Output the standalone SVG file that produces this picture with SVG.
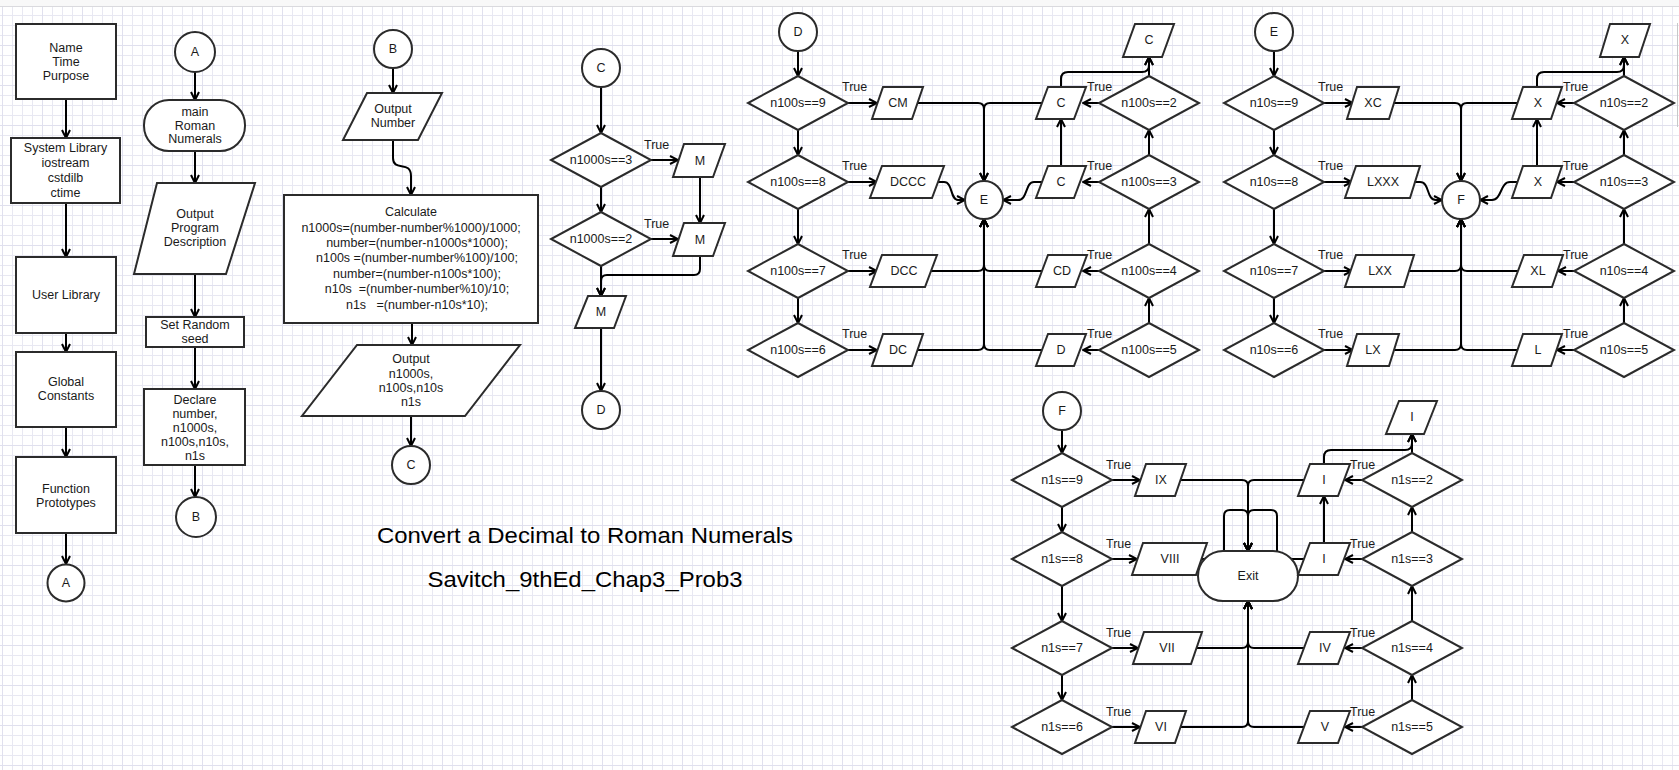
<svg xmlns="http://www.w3.org/2000/svg" width="1679" height="770" viewBox="0 0 1679 770">
<defs>
<pattern id="grid" patternUnits="userSpaceOnUse" x="2" y="5" width="40" height="40">
<rect width="40" height="40" fill="#fff"/>
<path d="M0.5,0V40M10.5,0V40M20.5,0V40M30.5,0V40M0,0.5H40M0,10.5H40M0,20.5H40M0,30.5H40" stroke="#e8e8f2" stroke-width="1" fill="none"/>
<path d="M0.5,0V40M0,0.5H40" stroke="#e0e0ee" stroke-width="1" fill="none"/>
</pattern>
<marker id="ah" viewBox="0 0 10 10" refX="9" refY="5" markerWidth="10" markerHeight="10" markerUnits="userSpaceOnUse" orient="auto">
<path d="M1,1 L9,5 L1,9" fill="none" stroke="#000" stroke-width="2"/>
</marker>
<style>
.s{fill:#fff;stroke:#2b2b2b;stroke-width:2}
.t{font-family:"Liberation Sans",Arial,sans-serif;font-size:12.5px;fill:#1a1a1a;text-anchor:middle}
.tl{font-family:"Liberation Sans",Arial,sans-serif;font-size:12.5px;fill:#1a1a1a;text-anchor:start}
.pre{white-space:pre}
.ti{font-family:"Liberation Sans",Arial,sans-serif;font-size:22px;fill:#000;text-anchor:middle}
#connectors path{fill:none;stroke:#000;stroke-width:2}
#connectors path.a{marker-end:url(#ah)}
</style>
</defs>

<rect width="1679" height="770" fill="url(#grid)"/>
<rect width="1679" height="6" fill="#f8f8f8"/>
<path d="M0,6.5H1679" stroke="#dadade" stroke-width="1"/>
<path d="M1677.5,23V127" stroke="#c8c8c8" stroke-width="1"/>

<g id="connectors">
<!-- column 1 -->
<path class="a" d="M66,99V138"/>
<path class="a" d="M66,203V257"/>
<path class="a" d="M66,333V352"/>
<path class="a" d="M66,427V457"/>
<path class="a" d="M66,533V564"/>
<!-- column 2 -->
<path class="a" d="M195,72V100"/>
<path class="a" d="M195,151V183"/>
<path class="a" d="M195,274V317"/>
<path class="a" d="M195,347V389"/>
<path class="a" d="M195,465V497"/>
<!-- column 3 -->
<path class="a" d="M393,68V93"/>
<path class="a" d="M393,140V158C393,172 411,160 411,176V195"/>
<path class="a" d="M412,323V345"/>
<path class="a" d="M411,416V446"/>
<!-- thousands -->
<path class="a" d="M601,87V133"/>
<path class="a" d="M651,160H678"/>
<path class="a" d="M700,177V223"/>
<path class="a" d="M601,187V212"/>
<path class="a" d="M651,239H678"/>
<path class="a" d="M700,256V269Q700,275 694,275H607Q601,275 601,281V296"/>
<path class="a" d="M601,266V296"/>
<path class="a" d="M601,328V391"/>
<!-- hundreds left -->
<path class="a" d="M798,51V76"/>
<path class="a" d="M798,130V155"/>
<path class="a" d="M798,209V244"/>
<path class="a" d="M798,298V323"/>
<path class="a" d="M848,103H877"/>
<path class="a" d="M848,182H877"/>
<path class="a" d="M848,271H877"/>
<path class="a" d="M848,350H877"/>
<path class="a" d="M918,103H978Q984,103 984,109V181"/>
<path class="a" d="M938,182H944C953,182 950,200 958,200H965"/>
<path class="a" d="M931,271H978Q984,271 984,265V219"/>
<path class="a" d="M918,350H978Q984,350 984,344V219"/>
<!-- hundreds right -->
<path class="a" d="M1149,323V298"/>
<path class="a" d="M1149,244V209"/>
<path class="a" d="M1149,155V130"/>
<path class="a" d="M1149,76V57"/>
<path class="a" d="M1099,103H1083"/>
<path class="a" d="M1099,182H1083"/>
<path class="a" d="M1099,271H1083"/>
<path class="a" d="M1099,350H1083"/>
<path class="a" d="M1061,87V79Q1061,72 1068,72H1142Q1149,72 1149,65V57"/>
<path class="a" d="M1061,166V119"/>
<path class="a" d="M1042,182H1034C1025,182 1028,200 1018,200H1003"/>
<path class="a" d="M1042,103H990Q984,103 984,109V181"/>
<path class="a" d="M1042,271H990Q984,271 984,265V219"/>
<path class="a" d="M1042,350H990Q984,350 984,344V219"/>
<!-- tens left -->
<path class="a" d="M1274,51V76"/>
<path class="a" d="M1274,130V155"/>
<path class="a" d="M1274,209V244"/>
<path class="a" d="M1274,298V323"/>
<path class="a" d="M1324,103H1353"/>
<path class="a" d="M1324,182H1352"/>
<path class="a" d="M1324,271H1352"/>
<path class="a" d="M1324,350H1353"/>
<path class="a" d="M1394,103H1455Q1461,103 1461,109V181"/>
<path class="a" d="M1415,182H1420C1430,182 1426,200 1436,200H1442"/>
<path class="a" d="M1409,271H1455Q1461,271 1461,265V219"/>
<path class="a" d="M1394,350H1455Q1461,350 1461,344V219"/>
<!-- tens right -->
<path class="a" d="M1624,323V298"/>
<path class="a" d="M1624,244V209"/>
<path class="a" d="M1624,155V130"/>
<path class="a" d="M1624,76V57"/>
<path class="a" d="M1574,103H1557"/>
<path class="a" d="M1574,182H1557"/>
<path class="a" d="M1574,271H1558"/>
<path class="a" d="M1574,350H1557"/>
<path class="a" d="M1537,87V79Q1537,72 1544,72H1617Q1624,72 1624,65V57"/>
<path class="a" d="M1537,166V119"/>
<path class="a" d="M1517,182H1510C1500,182 1502,200 1492,200H1480"/>
<path class="a" d="M1517,103H1467Q1461,103 1461,109V181"/>
<path class="a" d="M1518,271H1467Q1461,271 1461,265V219"/>
<path class="a" d="M1517,350H1467Q1461,350 1461,344V219"/>
<!-- ones left -->
<path class="a" d="M1062,430V453"/>
<path class="a" d="M1062,507V532"/>
<path class="a" d="M1062,586V621"/>
<path class="a" d="M1062,675V700"/>
<path class="a" d="M1112,480H1140"/>
<path class="a" d="M1112,559H1137"/>
<path class="a" d="M1112,648H1138"/>
<path class="a" d="M1112,727H1140"/>
<path class="a" d="M1181,480H1242Q1248,480 1248,486V551"/>
<path class="a" d="M1201,559H1218Q1224,559 1224,553V516Q1224,510 1230,510H1242Q1248,510 1248,516V551"/>
<path class="a" d="M1196,648H1242Q1248,648 1248,642V601"/>
<path class="a" d="M1181,727H1242Q1248,727 1248,721V601"/>
<!-- ones right -->
<path class="a" d="M1412,700V675"/>
<path class="a" d="M1412,621V586"/>
<path class="a" d="M1412,532V507"/>
<path class="a" d="M1412,453V434"/>
<path class="a" d="M1362,480H1345"/>
<path class="a" d="M1362,559H1345"/>
<path class="a" d="M1362,648H1345"/>
<path class="a" d="M1362,727H1345"/>
<path class="a" d="M1324,464V457Q1324,450 1331,450H1405Q1412,450 1412,443V434"/>
<path class="a" d="M1324,543V496"/>
<path class="a" d="M1304,480H1254Q1248,480 1248,486V551"/>
<path class="a" d="M1304,559H1283Q1277,559 1277,553V516Q1277,510 1271,510H1254Q1248,510 1248,516V551"/>
<path class="a" d="M1304,648H1254Q1248,648 1248,642V601"/>
<path class="a" d="M1304,727H1254Q1248,727 1248,721V601"/>
</g>

<!-- column 1 -->
<g id="header"><rect class="s" x="16" y="24" width="100" height="75"/><text class="t" x="66" y="52">Name<tspan x="66" dy="14">Time</tspan><tspan x="66" dy="14">Purpose</tspan></text></g>
<g id="syslib"><rect class="s" x="11" y="138" width="109" height="65"/><text class="t" x="65.5" y="152">System Library<tspan x="65.5" dy="15">iostream</tspan><tspan x="65.5" dy="15">cstdilb</tspan><tspan x="65.5" dy="15">ctime</tspan></text></g>
<g id="userlib"><rect class="s" x="16" y="257" width="100" height="76"/><text class="t" x="66" y="299">User Library</text></g>
<g id="globals"><rect class="s" x="16" y="352" width="100" height="75"/><text class="t" x="66" y="386">Global<tspan x="66" dy="14">Constants</tspan></text></g>
<g id="protos"><rect class="s" x="16" y="457" width="100" height="76"/><text class="t" x="66" y="493">Function<tspan x="66" dy="14">Prototypes</tspan></text></g>
<g id="A1"><circle class="s" cx="66" cy="583" r="18.5"/><text class="t" x="66" y="587">A</text></g>

<!-- column 2 -->
<g id="A2"><circle class="s" cx="195" cy="52" r="20"/><text class="t" x="195" y="56">A</text></g>
<g id="main"><rect class="s" x="144" y="100" width="101" height="51" rx="25" ry="25"/><text class="t" x="195" y="116">main<tspan x="195" dy="14">Roman</tspan><tspan x="195" dy="13">Numerals</tspan></text></g>
<g id="outdesc"><polygon class="s" points="157,183 255,183 226,274 134,274"/><text class="t" x="195" y="218">Output<tspan x="195" dy="14">Program</tspan><tspan x="195" dy="14">Description</tspan></text></g>
<g id="seed"><rect class="s" x="146" y="317" width="98" height="30"/><text class="t" x="195" y="329">Set Random<tspan x="195" dy="14">seed</tspan></text></g>
<g id="declare"><rect class="s" x="144" y="389" width="101" height="76"/><text class="t" x="195" y="404">Declare<tspan x="195" dy="14">number,</tspan><tspan x="195" dy="14">n1000s,</tspan><tspan x="195" dy="14">n100s,n10s,</tspan><tspan x="195" dy="14">n1s</tspan></text></g>
<g id="B1"><circle class="s" cx="196" cy="517" r="20"/><text class="t" x="196" y="521">B</text></g>

<!-- column 3 -->
<g id="B2"><circle class="s" cx="393" cy="49" r="19"/><text class="t" x="393" y="53">B</text></g>
<g id="outnum"><polygon class="s" points="367,93 442,93 418,140 343,140"/><text class="t" x="393" y="113">Output<tspan x="393" dy="14">Number</tspan></text></g>
<g id="calc"><rect class="s" x="284" y="195" width="254" height="128"/>
<text class="t pre" x="411" y="216">Calculate</text>
<text class="t pre" x="411" y="232">n1000s=(number-number%1000)/1000;</text>
<text class="t pre" x="417" y="247">number=(number-n1000s*1000);</text>
<text class="t pre" x="417" y="262">n100s =(number-number%100)/100;</text>
<text class="t pre" x="417" y="278">number=(number-n100s*100);</text>
<text class="t pre" x="417" y="293">n10s  =(number-number%10)/10;</text>
<text class="t pre" x="417" y="309">n1s   =(number-n10s*10);</text>
</g>
<g id="outvals"><polygon class="s" points="357,345 520,345 465,416 302,416"/><text class="t" x="411" y="363">Output<tspan x="411" dy="15">n1000s,</tspan><tspan x="411" dy="14">n100s,n10s</tspan><tspan x="411" dy="14">n1s</tspan></text></g>
<g id="C1"><circle class="s" cx="411" cy="465" r="19"/><text class="t" x="411" y="469">C</text></g>

<!-- thousands -->
<g id="C2"><circle class="s" cx="601" cy="68" r="19"/><text class="t" x="601" y="72">C</text></g>
<g id="th3"><polygon class="s" points="601,133 651,160 601,187 551,160"/><text class="t" x="601" y="164">n1000s==3</text></g>
<g id="th2"><polygon class="s" points="601,212 651,239 601,266 551,239"/><text class="t" x="601" y="243">n1000s==2</text></g>
<g id="m1"><polygon class="s" points="684,144 725,144 713,177 673,177"/><text class="t" x="700" y="165">M</text></g>
<g id="m2"><polygon class="s" points="684,223 725,223 713,256 673,256"/><text class="t" x="700" y="244">M</text></g>
<g id="m3"><polygon class="s" points="588,296 626,296 614,328 575,328"/><text class="t" x="601" y="316">M</text></g>
<g id="D1"><circle class="s" cx="601" cy="410" r="19"/><text class="t" x="601" y="414">D</text></g>
<g id="th-labels"><text class="tl" x="644" y="149">True</text><text class="tl" x="644" y="228">True</text></g>

<!-- hundreds -->
<g id="D2"><circle class="s" cx="798" cy="32" r="19"/><text class="t" x="798" y="36">D</text></g>
<g id="h9"><polygon class="s" points="798,76 848,103 798,130 748,103"/><text class="t" x="798" y="107">n100s==9</text></g>
<g id="h8"><polygon class="s" points="798,155 848,182 798,209 748,182"/><text class="t" x="798" y="186">n100s==8</text></g>
<g id="h7"><polygon class="s" points="798,244 848,271 798,298 748,271"/><text class="t" x="798" y="275">n100s==7</text></g>
<g id="h6"><polygon class="s" points="798,323 848,350 798,377 748,350"/><text class="t" x="798" y="354">n100s==6</text></g>
<g id="pCM"><polygon class="s" points="883,87 923,87 912,119 872,119"/><text class="t" x="898" y="107">CM</text></g>
<g id="pDCCC"><polygon class="s" points="882,166 944,166 932,198 870,198"/><text class="t" x="908" y="186">DCCC</text></g>
<g id="pDCC"><polygon class="s" points="882,255 937,255 925,287 870,287"/><text class="t" x="904" y="275">DCC</text></g>
<g id="pDC"><polygon class="s" points="883,334 923,334 912,366 872,366"/><text class="t" x="898" y="354">DC</text></g>
<g id="E1"><circle class="s" cx="984" cy="200" r="19"/><text class="t" x="984" y="204">E</text></g>
<g id="h2"><polygon class="s" points="1149,76 1199,103 1149,130 1099,103"/><text class="t" x="1149" y="107">n100s==2</text></g>
<g id="h3"><polygon class="s" points="1149,155 1199,182 1149,209 1099,182"/><text class="t" x="1149" y="186">n100s==3</text></g>
<g id="h4"><polygon class="s" points="1149,244 1199,271 1149,298 1099,271"/><text class="t" x="1149" y="275">n100s==4</text></g>
<g id="h5"><polygon class="s" points="1149,323 1199,350 1149,377 1099,350"/><text class="t" x="1149" y="354">n100s==5</text></g>
<g id="pC2"><polygon class="s" points="1048,87 1086,87 1074,119 1036,119"/><text class="t" x="1061" y="107">C</text></g>
<g id="pC3"><polygon class="s" points="1048,166 1086,166 1074,198 1036,198"/><text class="t" x="1061" y="186">C</text></g>
<g id="pCD"><polygon class="s" points="1048,255 1087,255 1075,287 1036,287"/><text class="t" x="1062" y="275">CD</text></g>
<g id="pD"><polygon class="s" points="1048,334 1086,334 1074,366 1036,366"/><text class="t" x="1061" y="354">D</text></g>
<g id="pCtop"><polygon class="s" points="1135,24 1174,24 1162,57 1123,57"/><text class="t" x="1149" y="44">C</text></g>
<g id="h-labels">
<text class="tl" x="842" y="91">True</text><text class="tl" x="842" y="170">True</text><text class="tl" x="842" y="259">True</text><text class="tl" x="842" y="338">True</text>
<text class="tl" x="1087" y="91">True</text><text class="tl" x="1087" y="170">True</text><text class="tl" x="1087" y="259">True</text><text class="tl" x="1087" y="338">True</text>
</g>

<!-- tens -->
<g id="E2"><circle class="s" cx="1274" cy="32" r="19"/><text class="t" x="1274" y="36">E</text></g>
<g id="t9"><polygon class="s" points="1274,76 1324,103 1274,130 1224,103"/><text class="t" x="1274" y="107">n10s==9</text></g>
<g id="t8"><polygon class="s" points="1274,155 1324,182 1274,209 1224,182"/><text class="t" x="1274" y="186">n10s==8</text></g>
<g id="t7"><polygon class="s" points="1274,244 1324,271 1274,298 1224,271"/><text class="t" x="1274" y="275">n10s==7</text></g>
<g id="t6"><polygon class="s" points="1274,323 1324,350 1274,377 1224,350"/><text class="t" x="1274" y="354">n10s==6</text></g>
<g id="pXC"><polygon class="s" points="1357,87 1399,87 1389,119 1347,119"/><text class="t" x="1373" y="107">XC</text></g>
<g id="pLXXX"><polygon class="s" points="1356,166 1420,166 1410,198 1345,198"/><text class="t" x="1383" y="186">LXXX</text></g>
<g id="pLXX"><polygon class="s" points="1356,255 1414,255 1404,287 1345,287"/><text class="t" x="1380" y="275">LXX</text></g>
<g id="pLX"><polygon class="s" points="1357,334 1399,334 1389,366 1347,366"/><text class="t" x="1373" y="354">LX</text></g>
<g id="F1"><circle class="s" cx="1461" cy="200" r="19"/><text class="t" x="1461" y="204">F</text></g>
<g id="t2"><polygon class="s" points="1624,76 1674,103 1624,130 1574,103"/><text class="t" x="1624" y="107">n10s==2</text></g>
<g id="t3"><polygon class="s" points="1624,155 1674,182 1624,209 1574,182"/><text class="t" x="1624" y="186">n10s==3</text></g>
<g id="t4"><polygon class="s" points="1624,244 1674,271 1624,298 1574,271"/><text class="t" x="1624" y="275">n10s==4</text></g>
<g id="t5"><polygon class="s" points="1624,323 1674,350 1624,377 1574,350"/><text class="t" x="1624" y="354">n10s==5</text></g>
<g id="pX2"><polygon class="s" points="1523,87 1562,87 1551,119 1512,119"/><text class="t" x="1538" y="107">X</text></g>
<g id="pX3"><polygon class="s" points="1523,166 1562,166 1551,198 1512,198"/><text class="t" x="1538" y="186">X</text></g>
<g id="pXL"><polygon class="s" points="1524,255 1563,255 1552,287 1512,287"/><text class="t" x="1538" y="275">XL</text></g>
<g id="pL"><polygon class="s" points="1523,334 1562,334 1551,366 1512,366"/><text class="t" x="1538" y="354">L</text></g>
<g id="pXtop"><polygon class="s" points="1610,24 1650,24 1639,57 1600,57"/><text class="t" x="1625" y="44">X</text></g>
<g id="t-labels">
<text class="tl" x="1318" y="91">True</text><text class="tl" x="1318" y="170">True</text><text class="tl" x="1318" y="259">True</text><text class="tl" x="1318" y="338">True</text>
<text class="tl" x="1563" y="91">True</text><text class="tl" x="1563" y="170">True</text><text class="tl" x="1563" y="259">True</text><text class="tl" x="1563" y="338">True</text>
</g>

<!-- ones -->
<g id="F2"><circle class="s" cx="1062" cy="411" r="19"/><text class="t" x="1062" y="415">F</text></g>
<g id="o9"><polygon class="s" points="1062,453 1112,480 1062,507 1012,480"/><text class="t" x="1062" y="484">n1s==9</text></g>
<g id="o8"><polygon class="s" points="1062,532 1112,559 1062,586 1012,559"/><text class="t" x="1062" y="563">n1s==8</text></g>
<g id="o7"><polygon class="s" points="1062,621 1112,648 1062,675 1012,648"/><text class="t" x="1062" y="652">n1s==7</text></g>
<g id="o6"><polygon class="s" points="1062,700 1112,727 1062,754 1012,727"/><text class="t" x="1062" y="731">n1s==6</text></g>
<g id="pIX"><polygon class="s" points="1146,464 1186,464 1175,496 1135,496"/><text class="t" x="1161" y="484">IX</text></g>
<g id="pVIII"><polygon class="s" points="1143,543 1207,543 1196,575 1132,575"/><text class="t" x="1170" y="563">VIII</text></g>
<g id="pVII"><polygon class="s" points="1144,632 1202,632 1191,664 1133,664"/><text class="t" x="1167" y="652">VII</text></g>
<g id="pVI"><polygon class="s" points="1146,711 1186,711 1175,743 1135,743"/><text class="t" x="1161" y="731">VI</text></g>
<g id="exit"><rect class="s" x="1198" y="551" width="100" height="50" rx="25" ry="25"/><text class="t" x="1248" y="580">Exit</text></g>
<g id="o2"><polygon class="s" points="1412,453 1462,480 1412,507 1362,480"/><text class="t" x="1412" y="484">n1s==2</text></g>
<g id="o3"><polygon class="s" points="1412,532 1462,559 1412,586 1362,559"/><text class="t" x="1412" y="563">n1s==3</text></g>
<g id="o4"><polygon class="s" points="1412,621 1462,648 1412,675 1362,648"/><text class="t" x="1412" y="652">n1s==4</text></g>
<g id="o5"><polygon class="s" points="1412,700 1462,727 1412,754 1362,727"/><text class="t" x="1412" y="731">n1s==5</text></g>
<g id="pI2"><polygon class="s" points="1310,464 1350,464 1338,496 1298,496"/><text class="t" x="1324" y="484">I</text></g>
<g id="pI3"><polygon class="s" points="1310,543 1350,543 1338,575 1298,575"/><text class="t" x="1324" y="563">I</text></g>
<g id="pIV"><polygon class="s" points="1310,632 1350,632 1338,664 1298,664"/><text class="t" x="1325" y="652">IV</text></g>
<g id="pV"><polygon class="s" points="1310,711 1350,711 1338,743 1298,743"/><text class="t" x="1325" y="731">V</text></g>
<g id="pItop"><polygon class="s" points="1399,401 1437,401 1424,434 1386,434"/><text class="t" x="1412" y="421">I</text></g>
<g id="o-labels">
<text class="tl" x="1106" y="469">True</text><text class="tl" x="1106" y="548">True</text><text class="tl" x="1106" y="637">True</text><text class="tl" x="1106" y="716">True</text>
<text class="tl" x="1350" y="469">True</text><text class="tl" x="1350" y="548">True</text><text class="tl" x="1350" y="637">True</text><text class="tl" x="1350" y="716">True</text>
</g>

<g id="title">
<text class="ti" x="585" y="543" textLength="416" lengthAdjust="spacingAndGlyphs">Convert a Decimal to Roman Numerals</text>
<text class="ti" x="585" y="587" textLength="315" lengthAdjust="spacingAndGlyphs">Savitch_9thEd_Chap3_Prob3</text>
</g>
</svg>
